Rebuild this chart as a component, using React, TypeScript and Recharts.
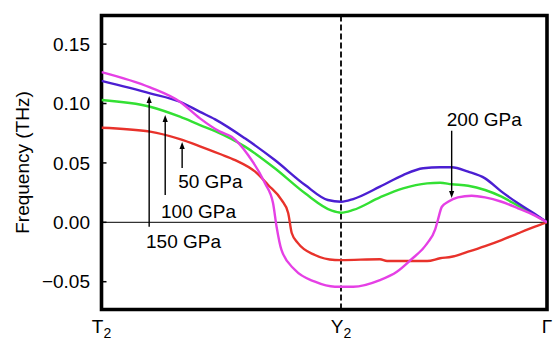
import React from 'react';
import { LineChart, Line, XAxis, YAxis, ReferenceLine, ReferenceArea, ReferenceDot } from 'recharts';

const FONT = '"Liberation Sans", Arial, sans-serif';

const Y_MIN = -0.0734;
const Y_MAX = 0.1741;
const yTicks = [-0.05, 0, 0.05, 0.1, 0.15];

const kTicks = [0, 0.5376, 1];
const kLabels = ['T', 'Y', 'Γ'];
const kSubs = ['2', '2', ''];

// 50 GPa (red)
const k50 = [0, 0.109, 0.176, 0.221, 0.266, 0.3, 0.345, 0.374, 0.404, 0.419, 0.427, 0.441, 0.479, 0.524, 0.538, 0.625, 0.641, 0.731, 0.76, 0.786, 0.823, 0.861, 0.898, 0.935, 0.973, 1.0];
const f50 = [0.0796, 0.0763, 0.07, 0.064, 0.0575, 0.0524, 0.0426, 0.0314, 0.0188, 0.0078, -0.009, -0.0175, -0.0275, -0.0317, -0.0318, -0.0311, -0.0326, -0.0326, -0.0303, -0.029, -0.0247, -0.02, -0.0149, -0.0093, -0.0037, 0];

// 100 GPa (green)
const k100 = [0, 0.109, 0.176, 0.221, 0.255, 0.322, 0.389, 0.457, 0.517, 0.538, 0.565, 0.625, 0.677, 0.731, 0.76, 0.786, 0.823, 0.861, 0.898, 0.935, 0.973, 1.0];
const f100 = [0.103, 0.0973, 0.0889, 0.0819, 0.0768, 0.0637, 0.0455, 0.0244, 0.0098, 0.0081, 0.0104, 0.021, 0.0286, 0.0328, 0.0333, 0.032, 0.0308, 0.0272, 0.0216, 0.014, 0.0061, 0];

// 150 GPa (blue)
const k150 = [0, 0.109, 0.176, 0.221, 0.255, 0.322, 0.389, 0.457, 0.508, 0.538, 0.565, 0.625, 0.677, 0.722, 0.76, 0.786, 0.823, 0.861, 0.898, 0.935, 0.973, 1.0];
const f150 = [0.119, 0.1086, 0.1015, 0.093, 0.0867, 0.0707, 0.0524, 0.0314, 0.0188, 0.0173, 0.0196, 0.03, 0.0398, 0.0455, 0.0463, 0.0463, 0.0426, 0.037, 0.0258, 0.016, 0.007, 0];

// 200 GPa (magenta)
const k200 = [0, 0.109, 0.176, 0.221, 0.266, 0.292, 0.329, 0.367, 0.385, 0.393, 0.404, 0.434, 0.479, 0.524, 0.538, 0.565, 0.625, 0.663, 0.694, 0.731, 0.749, 0.755, 0.764, 0.778, 0.8, 0.831, 0.861, 0.898, 0.935, 0.973, 1.0];
const f200 = [0.1265, 0.1136, 0.1015, 0.0875, 0.0763, 0.072, 0.0567, 0.0328, 0.0162, -0.0037, -0.0233, -0.04, -0.05, -0.0542, -0.0542, -0.0542, -0.0486, -0.0416, -0.0317, -0.0177, -0.006, 0.0019, 0.0131, 0.0173, 0.021, 0.0224, 0.021, 0.0173, 0.0118, 0.0056, 0];

// annotations
const pressureLabels = ['50 GPa', '100 GPa', '150 GPa', '200 GPa'];
const labelK = [0.172, 0.1336, 0.0999, 0.775];
const labelF = [0.0289, 0.0036, -0.0216, 0.081];
const arrowK = [0.181, 0.143, 0.107, 0.786];
const arrowFromF = [0.0457, 0.023, -0.0037, 0.0771];
const arrowToF = [0.0676, 0.0903, 0.1063, 0.0205];

const zip = (ks: number[], fs: number[]) => ks.map((x, i) => ({ x, y: fs[i] }));

const series = [
  { name: '50 GPa', data: zip(k50, f50), color: '#e8322b' },
  { name: '100 GPa', data: zip(k100, f100), color: '#33e033' },
  { name: '150 GPa', data: zip(k150, f150), color: '#4b1fd2' },
  { name: '200 GPa', data: zip(k200, f200), color: '#e540e5' },
];

const fmt = (v: number) => {
  const s = Math.abs(v).toFixed(2);
  return v < -1e-9 ? '\u2212' + s : s;
};

const KTick = (p: any) => {
  const i = p.index;
  return (
    <text x={p.x} y={p.y} textAnchor="middle" fontFamily={FONT} fontSize={19} fill="#000">
      {kLabels[i]}
      {kSubs[i] ? <tspan dy={5} fontSize={14}>{kSubs[i]}</tspan> : null}
    </text>
  );
};

const Arrow = (p: any) => {
  const { x1, y1, x2, y2 } = p;
  const dx = x2 - x1;
  const dy = y2 - y1;
  const len = Math.hypot(dx, dy) || 1;
  const ux = dx / len;
  const uy = dy / len;
  const hl = 7;
  const hw = 2.6;
  const bx = x2 - ux * hl;
  const by = y2 - uy * hl;
  return (
    <g>
      <line x1={x1} y1={y1} x2={bx} y2={by} stroke="#000" strokeWidth={1.4} />
      <polygon points={`${x2},${y2} ${bx - uy * hw},${by + ux * hw} ${bx + uy * hw},${by - ux * hw}`} fill="#000" />
    </g>
  );
};

const makeLabel = (text: string) => (p: any) => (
  <text x={p.cx} y={p.cy} textAnchor="start" fontFamily={FONT} fontSize={19} fill="#000">
    {text}
  </text>
);

const YLabel = (props: any) => {
  const vb = props.viewBox || { x: 0, y: 15.5, height: 294 };
  const cx = 22;
  const cy = vb.y + vb.height / 2;
  return (
    <text x={cx} y={cy} transform={`rotate(-90 ${cx} ${cy})`} textAnchor="middle" dominantBaseline="central" fontFamily={FONT} fontSize={19} fill="#000">
      Frequency (THz)
    </text>
  );
};

export default function App() {
  return (
    <div style={{ position: 'absolute', left: 0, top: 0 }}>
      <LineChart width={554} height={341} margin={{ top: 15.5, right: 7, bottom: 0, left: 0 }}>
        <XAxis
          dataKey="x"
          type="number"
          domain={[0, 1]}
          ticks={kTicks}
          interval={0}
          allowDataOverflow
          axisLine={false}
          tickLine={false}
          tickSize={0}
          tickMargin={23.5}
          height={31.5}
          tick={<KTick />}
        />
        <YAxis
          type="number"
          domain={[Y_MIN, Y_MAX]}
          allowDataOverflow
          ticks={yTicks}
          interval={0}
          tickFormatter={fmt}
          width={101.5}
          axisLine={false}
          tickSize={-5}
          tickMargin={16.5}
          tickLine={{ stroke: '#000', strokeWidth: 1.5 }}
          tick={{ fill: '#000', fontSize: 19, fontFamily: FONT }}
          label={{ content: <YLabel /> }}
        />
        <YAxis
          yAxisId="r"
          orientation="right"
          type="number"
          domain={[Y_MIN, Y_MAX]}
          allowDataOverflow
          ticks={yTicks}
          interval={0}
          width={0}
          axisLine={false}
          tick={false}
          tickSize={-5}
          tickLine={{ stroke: '#000', strokeWidth: 1.5 }}
        />
        <ReferenceLine y={0} stroke="#000" strokeWidth={1} />
        <ReferenceLine x={kTicks[1]} stroke="#000" strokeWidth={1.8} strokeDasharray="6 3" />
        {series.map((s) => (
          <Line
            key={s.name}
            data={s.data}
            dataKey="y"
            name={s.name}
            type="monotone"
            stroke={s.color}
            strokeWidth={2.4}
            dot={false}
            activeDot={false}
            isAnimationActive={false}
          />
        ))}
        {pressureLabels.map((t, i) => (
          <ReferenceLine
            key={'a' + i}
            segment={[{ x: arrowK[i], y: arrowFromF[i] }, { x: arrowK[i], y: arrowToF[i] }]}
            shape={Arrow}
          />
        ))}
        {pressureLabels.map((t, i) => (
          <ReferenceDot key={'l' + i} x={labelK[i]} y={labelF[i]} r={1} shape={makeLabel(t)} />
        ))}
        <ReferenceArea x1={0} x2={1} y1={Y_MIN} y2={Y_MAX} fill="none" fillOpacity={0} stroke="#000" strokeWidth={3.6} />
      </LineChart>
    </div>
  );
}
